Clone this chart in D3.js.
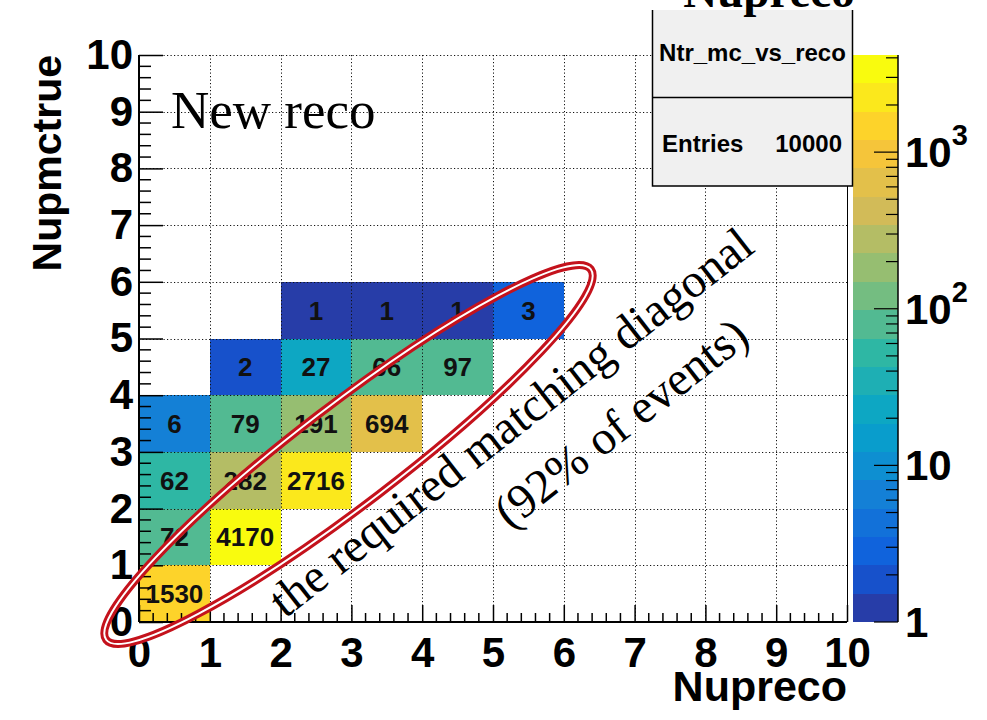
<!DOCTYPE html>
<html>
<head>
<meta charset="utf-8">
<script src="https://cdn.jsdelivr.net/npm/d3@7"></script>
<style>
  html, body { margin: 0; padding: 0; background: #ffffff; }
  svg { display: block; }
</style>
</head>
<body>
<svg id="chart" width="987" height="720"></svg>
<script>
// Ntr_mc_vs_reco: filled bins (reco bin, true bin, entries)
const recoBin = [0, 0, 1, 0, 1, 2, 0, 1, 2, 3, 1, 2, 3, 4, 2, 3, 4, 5];
const trueBin = [0, 1, 1, 2, 2, 2, 3, 3, 3, 3, 4, 4, 4, 4, 5, 5, 5, 5];
const entries = [1530, 72, 4170, 62, 282, 2716, 6, 79, 191, 694, 2, 27, 66, 97, 1, 1, 1, 3];

// axis ticks and labels
const axisTicks = [0, 1, 2, 3, 4, 5, 6, 7, 8, 9, 10];
const zMajorTicks = [1, 10, 100, 1000];
const zTickBase = ["1", "10", "10", "10"];
const zTickExp = ["", "", "2", "3"];

const histName = "Ntr_mc_vs_reco";
const xTitle = "Nupreco";
const yTitle = "Nupmctrue";
const padTitle = "Nupreco";
const noteLabel = "New reco";
const diagLine1 = "the required matching diagonal";
const diagLine2 = "(92% of events)";

// ---------------------------------------------------------------
const svg = d3.select("#chart");
const SANS = "'Liberation Sans', Arial, Helvetica, sans-serif";
const SERIF = "'Liberation Serif', 'Times New Roman', Times, serif";

const frame = { left: 139, right: 847, top: 55, bottom: 622 };
const x = d3.scaleLinear().domain([0, 10]).range([frame.left, frame.right]);
const y = d3.scaleLinear().domain([0, 10]).range([frame.bottom, frame.top]);

const zMax = d3.max(entries);
const nLevels = 20;
const z = d3.scaleLog().domain([1, zMax]).range([frame.bottom, frame.top]);

// kBird palette (ROOT 57)
const birdStops = [0.0, 0.125, 0.25, 0.375, 0.5, 0.625, 0.75, 0.875, 1.0];
const birdR = [0.2082, 0.0592, 0.0780, 0.0232, 0.1802, 0.5301, 0.8186, 0.9956, 0.9764];
const birdG = [0.1664, 0.3599, 0.5041, 0.6419, 0.7178, 0.7492, 0.7328, 0.7862, 0.9832];
const birdB = [0.5293, 0.8684, 0.8385, 0.7914, 0.6425, 0.4662, 0.3499, 0.1968, 0.0539];
const bird = d3.scaleLinear()
  .domain(birdStops)
  .range(birdStops.map((s, i) => d3.rgb(birdR[i] * 255, birdG[i] * 255, birdB[i] * 255).toString()))
  .interpolate(d3.interpolateRgb)
  .clamp(true);

function levelOf(v) {
  const f = Math.log10(v) / Math.log10(zMax);
  return Math.max(0, Math.min(nLevels - 1, Math.floor(f * nLevels)));
}
function levelColor(i) {
  const k = Math.floor((i + 0.99) * 255 / nLevels);
  return bird(k / 254);
}

const cells = entries.map((v, i) => ({ rx: recoBin[i], ty: trueBin[i], v }));

// ---- histogram cells
svg.append("g").selectAll("rect")
  .data(cells)
  .join("rect")
  .attr("x", d => x(d.rx))
  .attr("y", d => y(d.ty + 1))
  .attr("width", d => x(d.rx + 1) - x(d.rx))
  .attr("height", d => y(d.ty) - y(d.ty + 1))
  .attr("fill", d => levelColor(levelOf(d.v)))
  .attr("shape-rendering", "crispEdges");

// ---- dotted grid
const grid = svg.append("g")
  .attr("stroke", "#111")
  .attr("stroke-width", 1)
  .attr("stroke-dasharray", "1.2,2.3")
  .attr("fill", "none");
grid.selectAll("line.gx")
  .data(axisTicks.filter(t => t > 0 && t < 10))
  .join("line").attr("class", "gx")
  .attr("x1", d => Math.round(x(d)) + 0.5).attr("x2", d => Math.round(x(d)) + 0.5)
  .attr("y1", frame.top).attr("y2", frame.bottom);
grid.selectAll("line.gy")
  .data(axisTicks.filter(t => t > 0))
  .join("line").attr("class", "gy")
  .attr("y1", d => Math.round(y(d)) + 0.5).attr("y2", d => Math.round(y(d)) + 0.5)
  .attr("x1", frame.left).attr("x2", frame.right);

// ---- cell texts
svg.append("g").selectAll("text")
  .data(cells)
  .join("text")
  .attr("x", d => x(d.rx + 0.5))
  .attr("y", d => y(d.ty + 0.5))
  .attr("dy", "0.36em")
  .attr("text-anchor", "middle")
  .attr("font-family", SANS)
  .attr("font-weight", "bold")
  .attr("font-size", 26)
  .attr("fill", "#111")
  .text(d => d.v);

// ---- axes (ticks inside the frame)
const minorTicks = d3.range(0, 10.001, 0.2).filter(t => Math.abs(t - Math.round(t)) > 1e-6);

const gx = svg.append("g").attr("transform", `translate(0,${frame.bottom})`);
gx.call(d3.axisBottom(x).tickValues(axisTicks).tickSize(-17).tickPadding(15).tickFormat(d3.format("d")));
gx.append("g").selectAll("line").data(minorTicks).join("line")
  .attr("x1", d => x(d)).attr("x2", d => x(d)).attr("y1", 0).attr("y2", -9)
  .attr("stroke", "#000").attr("stroke-width", 1.5);

const gy = svg.append("g").attr("transform", `translate(${frame.left},0)`);
gy.call(d3.axisLeft(y).tickValues(axisTicks).tickSize(-24).tickPadding(6).tickFormat(d3.format("d")));
gy.append("g").selectAll("line").data(minorTicks).join("line")
  .attr("y1", d => y(d)).attr("y2", d => y(d)).attr("x1", 0).attr("x2", 12)
  .attr("stroke", "#000").attr("stroke-width", 1.5);

[gx, gy].forEach(g => {
  g.select(".domain").remove();
  g.selectAll(".tick line").attr("stroke", "#000").attr("stroke-width", 1.5);
  g.selectAll(".tick text")
    .attr("font-family", SANS).attr("font-weight", "bold")
    .attr("font-size", 42).attr("fill", "#000");
});

// axis lines and right frame edge
svg.append("line").attr("x1", frame.left).attr("x2", frame.right)
  .attr("y1", frame.bottom).attr("y2", frame.bottom)
  .attr("stroke", "#000").attr("stroke-width", 2);
svg.append("line").attr("x1", frame.left).attr("x2", frame.left)
  .attr("y1", frame.top).attr("y2", frame.bottom)
  .attr("stroke", "#000").attr("stroke-width", 2);
svg.append("line").attr("x1", frame.right + 0.5).attr("x2", frame.right + 0.5)
  .attr("y1", frame.top).attr("y2", frame.bottom)
  .attr("stroke", "#000").attr("stroke-width", 1);

// axis titles
svg.append("text")
  .attr("x", frame.right).attr("y", 701)
  .attr("text-anchor", "end")
  .attr("font-family", SANS).attr("font-weight", "bold").attr("font-size", 43)
  .text(xTitle);
svg.append("text")
  .attr("transform", `translate(61,${frame.top}) rotate(-90)`)
  .attr("text-anchor", "end")
  .attr("font-family", SANS).attr("font-weight", "bold").attr("font-size", 41)
  .text(yTitle);

// ---- colour palette bar
const bar = { x0: 853, x1: 898 };
const levels = d3.range(nLevels);
svg.append("g").selectAll("rect")
  .data(levels)
  .join("rect")
  .attr("x", bar.x0)
  .attr("width", bar.x1 - bar.x0)
  .attr("y", i => z(Math.pow(zMax, (i + 1) / nLevels)))
  .attr("height", i => z(Math.pow(zMax, i / nLevels)) - z(Math.pow(zMax, (i + 1) / nLevels)))
  .attr("fill", i => levelColor(i))
  .attr("shape-rendering", "crispEdges");

const zMinor = [];
zMajorTicks.forEach(m => d3.range(2, 10).forEach(k => { if (m * k <= zMax) zMinor.push(m * k); }));
const zAxis = svg.append("g").attr("stroke", "#000");
zAxis.append("line").attr("x1", bar.x1).attr("x2", bar.x1)
  .attr("y1", frame.top).attr("y2", frame.bottom).attr("stroke-width", 1.5);
zAxis.selectAll("line.maj").data(zMajorTicks).join("line").attr("class", "maj")
  .attr("x1", bar.x1 - 24).attr("x2", bar.x1)
  .attr("y1", d => z(d)).attr("y2", d => z(d)).attr("stroke-width", 1.2);
zAxis.selectAll("line.min").data(zMinor).join("line").attr("class", "min")
  .attr("x1", bar.x1 - 12).attr("x2", bar.x1)
  .attr("y1", d => z(d)).attr("y2", d => z(d)).attr("stroke-width", 1.2);

const zLab = svg.append("g").selectAll("text")
  .data(zMajorTicks)
  .join("text")
  .attr("x", 905)
  .attr("y", d => z(d))
  .attr("dy", "0.36em")
  .attr("font-family", SANS).attr("font-weight", "bold").attr("font-size", 42)
  .attr("fill", "#000");
zLab.append("tspan").text((d, i) => zTickBase[i]);
zLab.append("tspan")
  .attr("font-size", 29)
  .attr("dy", "-0.75em")
  .text((d, i) => zTickExp[i]);

// ---- statistics box
const stats = { x0: 652.5, x1: 852.5, y0: 10, ymid: 97.5, y1: 186 };
svg.append("rect")
  .attr("x", stats.x0).attr("y", stats.y0)
  .attr("width", stats.x1 - stats.x0).attr("height", stats.y1 - stats.y0)
  .attr("fill", "#f0f0f0");
svg.append("path")
  .attr("d", `M${stats.x0},${stats.y0}V${stats.y1}H${stats.x1}V${stats.y0}M${stats.x0},${stats.ymid}H${stats.x1}`)
  .attr("fill", "none").attr("stroke", "#000").attr("stroke-width", 1.5);
svg.append("text")
  .attr("x", (stats.x0 + stats.x1) / 2).attr("y", 61)
  .attr("text-anchor", "middle")
  .attr("font-family", SANS).attr("font-weight", "bold").attr("font-size", 24)
  .text(histName);
svg.append("text")
  .attr("x", 662).attr("y", 152)
  .attr("font-family", SANS).attr("font-weight", "bold").attr("font-size", 24)
  .text("Entries");
svg.append("text")
  .attr("x", 842).attr("y", 152)
  .attr("text-anchor", "end")
  .attr("font-family", SANS).attr("font-weight", "bold").attr("font-size", 24)
  .text(d3.sum(entries));

// pad title
svg.append("text")
  .attr("x", 769).attr("y", 7)
  .attr("text-anchor", "middle")
  .attr("font-family", SERIF).attr("font-weight", "bold").attr("font-size", 47)
  .text(padTitle);

// ---- annotations
svg.append("text")
  .attr("x", 171).attr("y", 128)
  .attr("font-family", SERIF).attr("font-size", 53)
  .text(noteLabel);

// red double-line ellipse around the diagonal
const ell = { cx: 348.5, cy: 454.5, rx: 305, ry: 50, angle: -37.4 };
const ellG = svg.append("g")
  .attr("transform", `translate(${ell.cx},${ell.cy}) rotate(${ell.angle})`);
ellG.append("ellipse").attr("rx", ell.rx).attr("ry", ell.ry)
  .attr("fill", "none").attr("stroke", "#c4121c").attr("stroke-width", 8);
ellG.append("ellipse").attr("rx", ell.rx).attr("ry", ell.ry)
  .attr("fill", "none").attr("stroke", "#ffffff").attr("stroke-width", 2);

svg.append("text")
  .attr("transform", "translate(285,619) rotate(-38)")
  .attr("font-family", SERIF).attr("font-size", 48)
  .text(diagLine1);
svg.append("text")
  .attr("transform", "translate(510,530) rotate(-38)")
  .attr("font-family", SERIF).attr("font-size", 48)
  .text(diagLine2);
</script>
</body>
</html>
